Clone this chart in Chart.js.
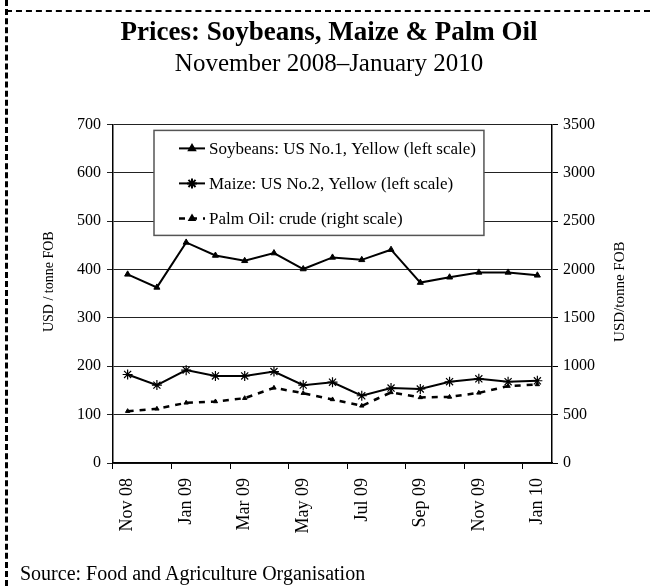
<!DOCTYPE html>
<html>
<head>
<meta charset="utf-8">
<script src="https://cdn.jsdelivr.net/npm/chart.js@4/dist/chart.umd.min.js"></script>
<style>
  body { margin: 0; background: #fff; }
  #wrap { position: relative; width: 650px; height: 586px; }
  .edge-top { position: absolute; left: 6px; top: 10px; width: 644px; border-top: 2px dashed #000; }
  .edge-left { position: absolute; left: 5px; top: 0; height: 586px; border-left: 3px dashed #000; }
  #fuente { position: absolute; left: 20px; top: 562px; font: 20px 'Liberation Serif', 'Times New Roman', serif; color: #000; }
</style>
</head>
<body>
<div id="wrap">
  <canvas id="grafico" width="650" height="586"></canvas>
  <div class="edge-top"></div>
  <div class="edge-left"></div>
  <div id="fuente">Source: Food and Agriculture Organisation</div>
</div>
<script>
const meses = ['Nov 08', 'Dec 08', 'Jan 09', 'Feb 09', 'Mar 09', 'Apr 09', 'May 09', 'Jun 09',
  'Jul 09', 'Aug 09', 'Sep 09', 'Oct 09', 'Nov 09', 'Dec 09', 'Jan 10'];
const soja = [390, 363, 456, 429, 418, 434, 401, 425, 420, 441, 373, 384, 394, 394, 388];
const maiz = [183, 161, 192, 180, 180, 189, 161, 167, 139, 155, 153, 168, 174, 168, 170];
const palma = [536, 560, 622, 636, 670, 777, 722, 657, 591, 730, 678, 683, 725, 795, 812];
const ticksIzq = [0, 100, 200, 300, 400, 500, 600, 700];
const ticksDer = [0, 500, 1000, 1500, 2000, 2500, 3000, 3500];

const serif = "'Liberation Serif', 'Times New Roman', serif";
Chart.defaults.font.family = serif;
Chart.defaults.color = '#000';

// legend drawn inside the plot, with line + marker samples
const cajaLeyenda = {
  id: 'cajaLeyenda',
  afterDraw(chart) {
    const ctx = chart.ctx;
    const area = chart.chartArea;
    const x = area.left + 41;
    const y = area.top + 6;
    ctx.save();
    ctx.font = '17px ' + serif;
    let ancho = 0;
    chart.data.datasets.forEach(ds => {
      ancho = Math.max(ancho, ctx.measureText(ds.label).width);
    });
    const w = 55 + ancho + 8;
    const h = 105;
    ctx.fillStyle = '#fff';
    ctx.fillRect(x, y, w, h);
    ctx.strokeStyle = '#555';
    ctx.lineWidth = 1.5;
    ctx.strokeRect(x, y, w, h);
    chart.data.datasets.forEach((ds, i) => {
      const ly = y + 18 + i * 35;
      ctx.strokeStyle = '#000';
      ctx.fillStyle = '#000';
      ctx.lineWidth = ds.borderWidth;
      ctx.setLineDash(ds.borderDash || []);
      ctx.beginPath();
      ctx.moveTo(x + 25, ly);
      ctx.lineTo(x + 51, ly);
      ctx.stroke();
      ctx.setLineDash([]);
      Chart.helpers.drawPoint(ctx, {
        pointStyle: ds.pointStyle,
        radius: ds.pointRadius,
        borderWidth: ds.pointBorderWidth,
        rotation: 0
      }, x + 38, ly);
      ctx.fillStyle = '#000';
      ctx.textBaseline = 'middle';
      ctx.fillText(ds.label, x + 55, ly + 1);
    });
    ctx.restore();
  }
};

// both axis titles read upwards
function tituloVertical(ctx, texto, x, y, size) {
  ctx.save();
  ctx.translate(x, y);
  ctx.rotate(-Math.PI / 2);
  ctx.font = size + 'px ' + serif;
  ctx.fillStyle = '#000';
  ctx.textAlign = 'center';
  ctx.textBaseline = 'middle';
  ctx.fillText(texto, 0, 0);
  ctx.restore();
}

const titulosEjes = {
  id: 'titulosEjes',
  afterDraw(chart) {
    const a = chart.chartArea;
    const mid = (a.top + a.bottom) / 2;
    tituloVertical(chart.ctx, 'USD / tonne FOB', chart.scales.y.left + 27, mid - 12, 14);
    tituloVertical(chart.ctx, 'USD/tonne FOB', chart.scales.y2.right - 16, mid - 2, 15);
  }
};

new Chart(document.getElementById('grafico'), {
  type: 'line',
  data: {
    labels: meses,
    datasets: [{
      label: 'Soybeans: US No.1, Yellow (left scale)',
      data: soja,
      yAxisID: 'y',
      borderColor: '#000',
      backgroundColor: '#000',
      borderWidth: 2,
      pointStyle: 'triangle',
      pointRadius: 3.5,
      pointBorderWidth: 1,
      tension: 0
    }, {
      label: 'Maize: US No.2, Yellow (left scale)',
      data: maiz,
      yAxisID: 'y',
      borderColor: '#000',
      backgroundColor: '#000',
      borderWidth: 2,
      pointStyle: 'star',
      pointRadius: 5,
      pointBorderWidth: 1.2,
      tension: 0
    }, {
      label: 'Palm Oil: crude (right scale)',
      data: palma,
      yAxisID: 'y2',
      borderColor: '#000',
      backgroundColor: '#000',
      borderWidth: 2.5,
      borderDash: [6, 6],
      pointStyle: 'triangle',
      pointRadius: 2.5,
      pointBorderWidth: 1,
      tension: 0
    }]
  },
  options: {
    responsive: false,
    animation: false,
    devicePixelRatio: 1,
    layout: { padding: { left: 22, right: 14, top: 0, bottom: 40 } },
    plugins: {
      legend: { display: false },
      tooltip: { enabled: false },
      title: {
        display: true,
        text: 'Prices: Soybeans, Maize & Palm Oil',
        font: { size: 27, weight: 'bold' },
        color: '#000',
        padding: { top: 17, bottom: 0 }
      },
      subtitle: {
        display: true,
        text: 'November 2008\u2013January 2010',
        font: { size: 25 },
        color: '#000',
        padding: { top: 0, bottom: 45 }
      }
    },
    scales: {
      x: {
        offset: true,
        afterFit(scale) { scale.height = 83; },
        grid: {
          offset: true,
          drawOnChartArea: false,
          tickLength: 6,
          color: ctx => (ctx.index % 2 === 0 ? '#000' : 'rgba(0,0,0,0)')
        },
        border: { display: true, color: '#000', width: 1.5 },
        ticks: {
          autoSkip: false,
          maxRotation: 90,
          minRotation: 90,
          padding: 9,
          font: { size: 18 },
          callback: (v, i) => (i % 2 === 0 ? meses[i] : '')
        }
      },
      y: {
        position: 'left',
        min: ticksIzq[0],
        max: ticksIzq[ticksIzq.length - 1],
        afterFit(scale) { scale.width = 91; },
        afterBuildTicks(scale) { scale.ticks = ticksIzq.map(v => ({ value: v })); },
        grid: { color: '#222', lineWidth: 1, tickLength: 6 },
        border: { display: true, color: '#000', width: 1.5 },
        ticks: { padding: 6, font: { size: 16 }, callback: v => String(v) }
      },
      y2: {
        position: 'right',
        min: ticksDer[0],
        max: ticksDer[ticksDer.length - 1],
        afterFit(scale) { scale.width = 84; },
        afterBuildTicks(scale) { scale.ticks = ticksDer.map(v => ({ value: v })); },
        grid: { drawOnChartArea: false, color: '#000', tickLength: 6 },
        border: { display: true, color: '#000', width: 1.5 },
        ticks: { padding: 5, font: { size: 16 }, callback: v => String(v) }
      }
    }
  },
  plugins: [cajaLeyenda, titulosEjes]
});
</script>
</body>
</html>
